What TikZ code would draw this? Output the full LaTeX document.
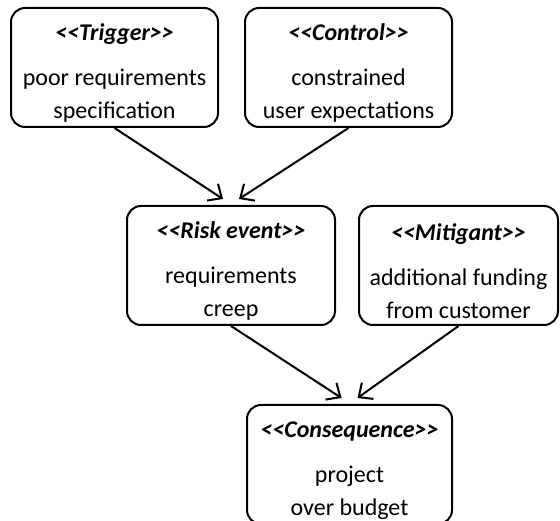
\documentclass[tikz,border=0pt]{standalone}
\usepackage{fontspec}
\setmainfont{Carlito}
\usetikzlibrary{arrows.meta}

\begin{document}
\begin{tikzpicture}[x=1pt,y=1pt,font=\fontsize{24}{33}\selectfont,
    riskbox/.style={draw,line width=2pt,rounded corners=14pt,minimum height=119pt,align=center,inner sep=0pt},
    link/.style={line width=2pt,-{Straight Barb[length=11pt,width=20pt,line width=2pt]}}]
    \useasboundingbox (0,0) rectangle (560,-521);
    \foreach \name/\x/\y/\w/\kind/\first/\second in {
        trigger/114.5/-67.5/207/Trigger/poor requirements/specification,
        control/348.5/-67.5/207/Control/constrained/user expectations,
        risk/231/-265.5/208/Risk event/requirements/creep,
        mitigant/458.5/-265.5/199/Mitigant/additional funding/from customer,
        consequence/349.5/-464.5/205/Consequence/project/over budget} {
        \node[riskbox,minimum width=\w pt] (\name) at (\x,\y)
            {\rule{0pt}{28pt}\textbf{\textit{<\kern0pt<\kind>\kern0pt>}}\\[12pt]\first\\\second};
    }
    \foreach \from/\to/\dx in {trigger/risk/-8, control/risk/8, risk/consequence/-8, mitigant/consequence/8}
        \draw[link] (\from.south) -- ([xshift=\dx pt,yshift=6pt]\to.north);
\end{tikzpicture}
\end{document}
